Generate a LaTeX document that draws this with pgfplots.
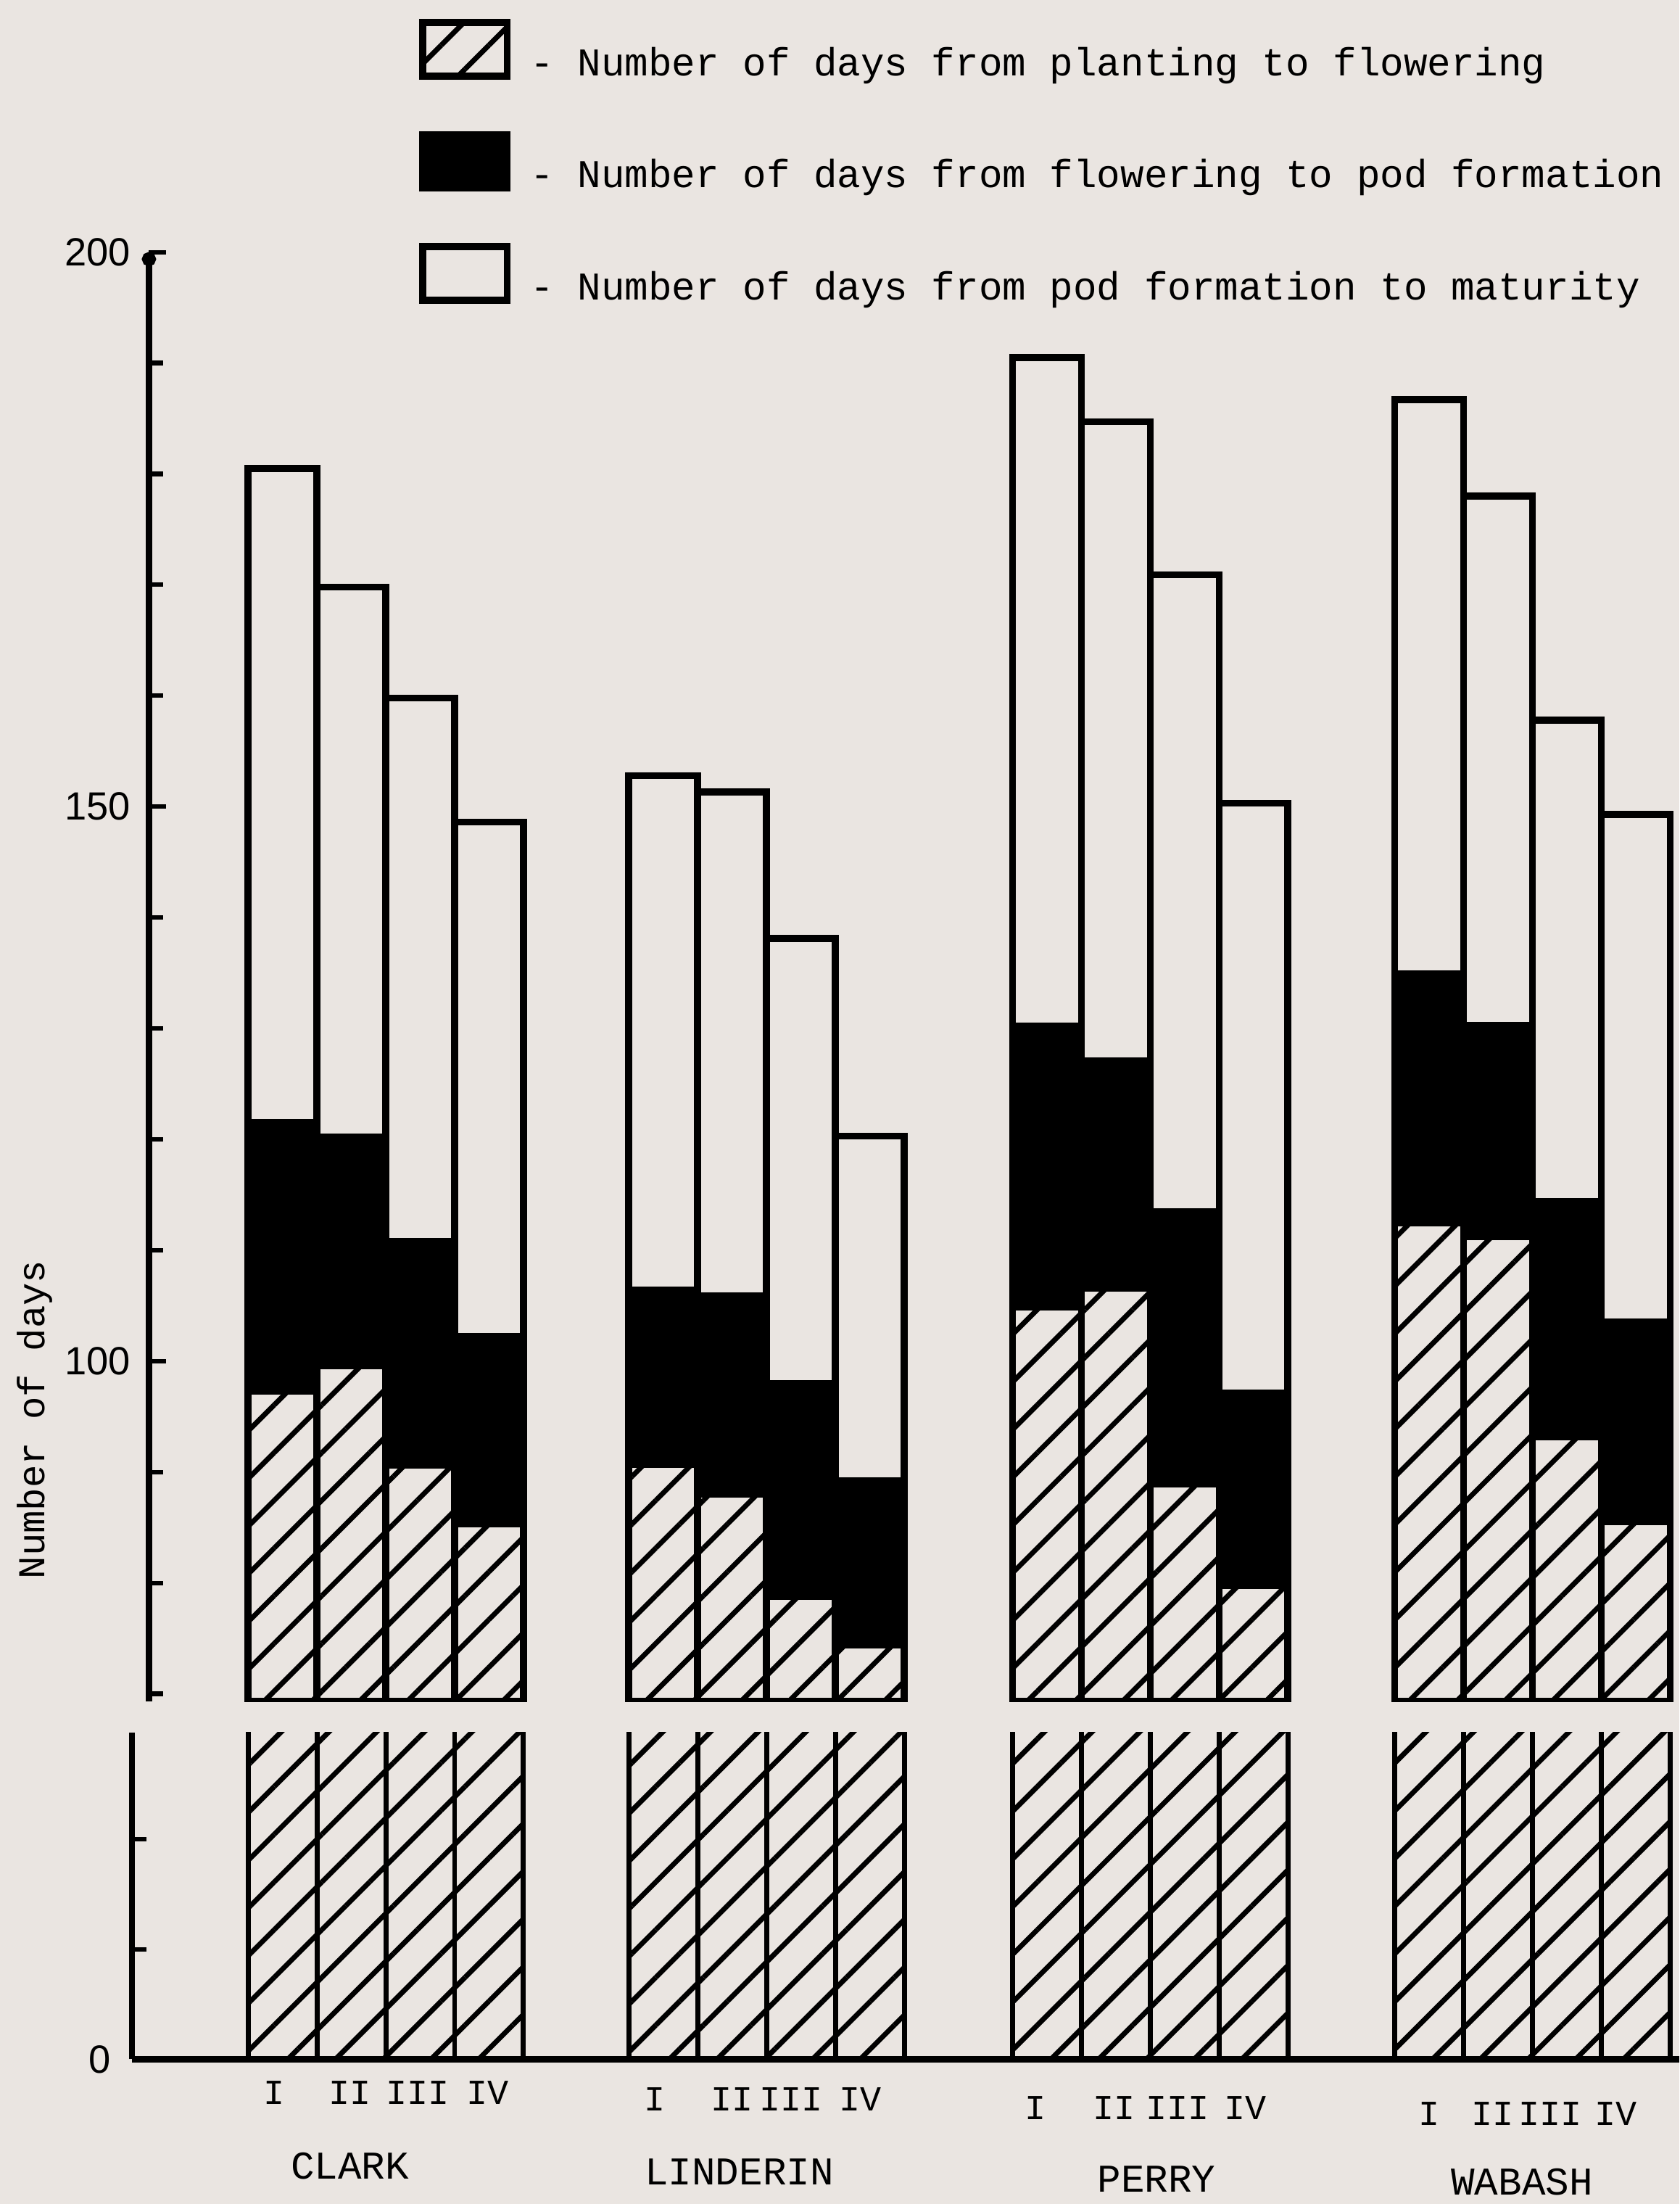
\documentclass[border=0pt]{standalone}
\usepackage{fontspec}
\usepackage{pgfplots}
\pgfplotsset{compat=1.18}
\usepackage{pgfplotstable}
\usetikzlibrary{patterns.meta,arrows.meta}
\newfontfamily\tw{Liberation Mono}
\newfontfamily\lsans{Liberation Sans}
\definecolor{paper}{RGB}{234,229,225}

% x = bar centre (drawing units), h = planting->flowering,
% f = flowering->pod formation, m = pod formation->maturity
\pgfplotstableread{
x    h     f    m
201  97.3  24.2 59.0
250  99.6  20.6 49.6
299  90.6  20.2 49.0
348  85.3  16.9 46.4
472  90.7  15.7 46.4
521  88.0  17.9 45.4
570  78.8  19.2 40.1
619  74.4  14.8 31.1
745  104.9 25.3 60.3
794  106.6 20.5 57.6
843  88.9  24.6 57.4
892  79.8  17.3 53.2
1017 112.5 22.4 51.8
1066 111.2 19.1 47.7
1115 93.2  21.2 43.4
1164 85.5  18.0 45.8
}\bars

\pgfplotsset{
  boxlegend/.style={legend image code/.code={\draw[##1] (0pt,-4.5pt) rectangle (30pt,14.5pt);}},
  hatch/.style={pattern={Lines[angle=45,distance=12pt,line width=1.8pt]}, pattern color=black},
}

\begin{document}
\begin{tikzpicture}
\useasboundingbox (0,0) rectangle (597.5pt,784pt);
\fill[paper] (0,0) rectangle (597.5pt,784pt);

% ---------- upper part of the broken axis ----------
\begin{axis}[
  at={(53pt,178.7pt)}, anchor=south west,
  x=0.5pt, y=3.945pt,
  xmin=106, xmax=1195, ymin=69.3, ymax=200,
  axis x line=none, axis y line=left,
  y axis line style={line width=2.4pt, -{Circle[length=5pt]}},
  xtick=\empty,
  ytick={100,150,200}, yticklabels={100,150,200},
  minor ytick={70,80,90,110,120,130,140,160,170,180,190},
  tick align=inside, major tick length=6pt, minor tick length=5pt,
  every tick/.style={line width=1.6pt, black},
  yticklabel style={font=\lsans\fontsize{14}{14}\selectfont, xshift=-3pt},
  ybar stacked, bar width=49,
  ylabel={Number of days},
  ylabel style={font=\tw\fontsize{13.5}{14}\selectfont, at={(axis description cs:-0.0744,0.1945)}, anchor=center},
  legend style={at={(axis description cs:0.1763,1.1612)}, anchor=north west,
    draw=none, fill=none, inner sep=0pt, row sep=16.3pt, column sep=5pt,
    font=\tw\fontsize{14}{16}\selectfont},
  legend cell align=left,
]
\addplot[draw=black, line width=2.5pt, hatch, boxlegend] table[x=x,y=h]{\bars};
\addplot[draw=black, fill=black, line width=2.5pt, boxlegend] table[x=x,y=f]{\bars};
\addplot[draw=black, fill=paper, line width=2.5pt, boxlegend] table[x=x,y=m]{\bars};
\legend{- Number of days from planting to flowering,
        - Number of days from flowering to pod formation,
        - Number of days from pod formation to maturity}
\end{axis}

% ---------- lower part of the broken axis ----------
\begin{axis}[
  at={(47pt,51.5pt)}, anchor=south west,
  x=0.5pt, y=3.915pt,
  xmin=94, xmax=1195, ymin=0, ymax=29.7,
  axis x line=bottom, axis y line=left,
  axis line style={line width=2.2pt, -},
  xtick=\empty,
  ytick={0}, yticklabels={0}, minor ytick={10,20},
  tick align=inside, major tick length=6pt, minor tick length=5pt,
  every tick/.style={line width=1.6pt, black},
  yticklabel style={font=\lsans\fontsize{14}{14}\selectfont, xshift=-4pt},
  ybar stacked, bar width=49,
]
\addplot[draw=black, line width=1.8pt, hatch] table[x=x,y=h]{\bars};
\coordinate (n1) at (axis cs:195,-4.1);
\coordinate (n2) at (axis cs:249,-4.1);
\coordinate (n3) at (axis cs:297,-4.1);
\coordinate (n4) at (axis cs:347,-4.1);
\coordinate (n5) at (axis cs:466,-4.7);
\coordinate (n6) at (axis cs:521,-4.7);
\coordinate (n7) at (axis cs:563,-4.7);
\coordinate (n8) at (axis cs:612,-4.7);
\coordinate (n9) at (axis cs:737,-5.5);
\coordinate (n10) at (axis cs:793,-5.5);
\coordinate (n11) at (axis cs:838,-5.5);
\coordinate (n12) at (axis cs:886,-5.5);
\coordinate (n13) at (axis cs:1017,-6.0);
\coordinate (n14) at (axis cs:1062,-6.0);
\coordinate (n15) at (axis cs:1103,-6.0);
\coordinate (n16) at (axis cs:1150,-6.0);
\coordinate (g1) at (axis cs:249,-10.9);
\coordinate (g2) at (axis cs:526,-11.4);
\coordinate (g3) at (axis cs:823,-12.1);
\coordinate (g4) at (axis cs:1083,-12.3);
\end{axis}

\begin{scope}[font=\tw\fontsize{12.5}{14}\selectfont, every node/.style={anchor=base}]
\node at (n1) {I};  \node at (n2) {II};  \node at (n3) {III};  \node at (n4) {IV};
\node at (n5) {I};  \node at (n6) {II};  \node at (n7) {III};  \node at (n8) {IV};
\node at (n9) {I};  \node at (n10) {II}; \node at (n11) {III}; \node at (n12) {IV};
\node at (n13) {I}; \node at (n14) {II}; \node at (n15) {III}; \node at (n16) {IV};
\end{scope}
\begin{scope}[font=\tw\fontsize{14}{14}\selectfont, every node/.style={anchor=base}]
\node at (g1) {CLARK};
\node at (g2) {LINDERIN};
\node at (g3) {PERRY};
\node at (g4) {WABASH};
\end{scope}
\end{tikzpicture}
\end{document}
